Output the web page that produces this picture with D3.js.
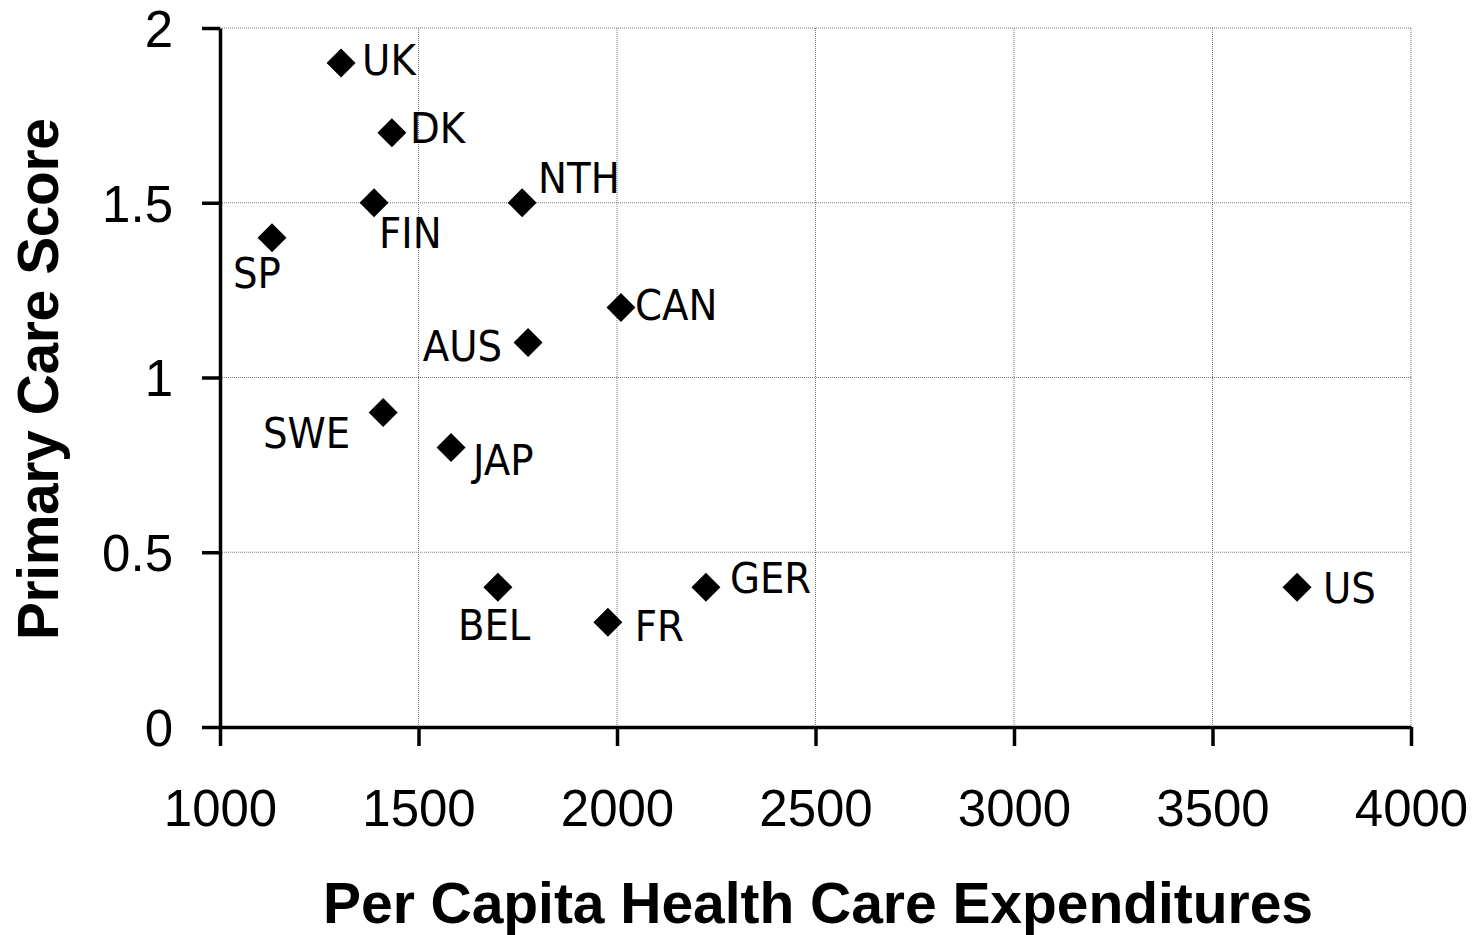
<!DOCTYPE html>
<html>
<head>
<meta charset="utf-8">
<script src="https://cdn.jsdelivr.net/npm/d3@7"></script>
<style>
  body { margin: 0; background: #fff; }
  .label { font-family: "DejaVu Sans Condensed", "DejaVu Sans", sans-serif; font-stretch: condensed; font-size: 43px; }
  .tick text { font-family: "Liberation Sans", Arial, sans-serif; font-size: 51px; fill: #000; }
  .title { font-family: "Liberation Sans", Arial, sans-serif; font-size: 57px; font-weight: bold; }
</style>
</head>
<body>
<div id="chart"></div>
<script>
// data
const countries = ["UK", "DK", "FIN", "NTH", "SP", "CAN", "AUS", "SWE", "JAP", "BEL", "FR", "GER", "US"];
const expenditures = [1305, 1433, 1388, 1761, 1131, 2010, 1776, 1411, 1582, 1700, 1977, 2224, 3713];
const scores = [1.9, 1.7, 1.5, 1.5, 1.4, 1.2, 1.1, 0.9, 0.8, 0.4, 0.3, 0.4, 0.4];
const xTicks = [1000, 1500, 2000, 2500, 3000, 3500, 4000];
const yTicks = [0, 0.5, 1, 1.5, 2];

// where each label sits next to its marker
const labelPlace = {
  UK: ["start", 21, 12], DK: ["start", 18, 10], FIN: ["start", 5, 45],
  NTH: ["start", 16, -10], SP: ["start", -39, 50], CAN: ["start", 14, 12],
  AUS: ["end", -26, 18], SWE: ["end", -33, 36], JAP: ["start", 22, 28],
  BEL: ["start", -40, 53], FR: ["start", 27, 19], GER: ["start", 24, 6],
  US: ["start", 26, 16]
};

const width = 1479;
const height = 935;
const margin = { top: 28, right: 68, bottom: 208, left: 220 };
const innerW = width - margin.left - margin.right;
const innerH = height - margin.top - margin.bottom;

const points = countries.map((c, i) => ({ name: c, x: expenditures[i], y: scores[i] }));

const x = d3.scaleLinear().domain([1000, 4000]).range([0, innerW]);
const y = d3.scaleLinear().domain([0, 2]).range([innerH, 0]);

const svg = d3.select("#chart").append("svg")
  .attr("width", width)
  .attr("height", height);

const g = svg.append("g").attr("transform", `translate(${margin.left},${margin.top})`);

// dotted grid
g.selectAll("line.hgrid")
  .data(yTicks.filter((d) => d > 0))
  .enter().append("line")
  .attr("class", "hgrid")
  .attr("x1", 0).attr("x2", innerW)
  .attr("y1", (d) => y(d)).attr("y2", (d) => y(d))
  .attr("stroke", "#777").attr("stroke-width", 1).attr("stroke-dasharray", "1,1");

g.selectAll("line.vgrid")
  .data(xTicks.filter((d) => d > 1000))
  .enter().append("line")
  .attr("class", "vgrid")
  .attr("y1", 0).attr("y2", innerH)
  .attr("x1", (d) => x(d)).attr("x2", (d) => x(d))
  .attr("stroke", "#777").attr("stroke-width", 1).attr("stroke-dasharray", "1,1");

// axes
const xAxis = g.append("g")
  .attr("transform", `translate(0,${innerH})`)
  .call(d3.axisBottom(x).tickValues(xTicks).tickSize(19).tickSizeOuter(0).tickPadding(44).tickFormat((d) => String(d)));

const yAxis = g.append("g")
  .call(d3.axisLeft(y).tickValues(yTicks).tickSize(18).tickSizeOuter(0).tickPadding(29).tickFormat((d) => String(d)));

[xAxis, yAxis].forEach((a) => {
  a.select(".domain").attr("stroke", "#000").attr("stroke-width", 3.5);
  a.selectAll(".tick line").attr("stroke", "#000").attr("stroke-width", 3.5);
  a.attr("font-family", null).attr("font-size", null);
});
yAxis.selectAll(".tick text").attr("dy", "0.36em");

// markers
const diamond = d3.symbol().type(d3.symbolSquare).size(420);
g.selectAll("path.pt")
  .data(points)
  .enter().append("path")
  .attr("class", "pt")
  .attr("d", diamond)
  .attr("transform", (d) => `translate(${x(d.x)},${y(d.y)}) rotate(45)`)
  .attr("fill", "#000");

// country labels
g.selectAll("text.label")
  .data(points)
  .enter().append("text")
  .attr("class", "label")
  .attr("text-anchor", (d) => labelPlace[d.name][0])
  .attr("x", (d) => x(d.x) + labelPlace[d.name][1])
  .attr("y", (d) => y(d.y) + labelPlace[d.name][2])
  .text((d) => d.name);

// axis titles
svg.append("text")
  .attr("class", "title")
  .attr("text-anchor", "middle")
  .attr("x", 818)
  .attr("y", 923)
  .attr("textLength", 990)
  .attr("lengthAdjust", "spacing")
  .text("Per Capita Health Care Expenditures");

svg.append("text")
  .attr("class", "title")
  .attr("text-anchor", "middle")
  .attr("transform", "translate(58,379) rotate(-90)")
  .attr("textLength", 522)
  .attr("lengthAdjust", "spacing")
  .text("Primary Care Score");
</script>
</body>
</html>
